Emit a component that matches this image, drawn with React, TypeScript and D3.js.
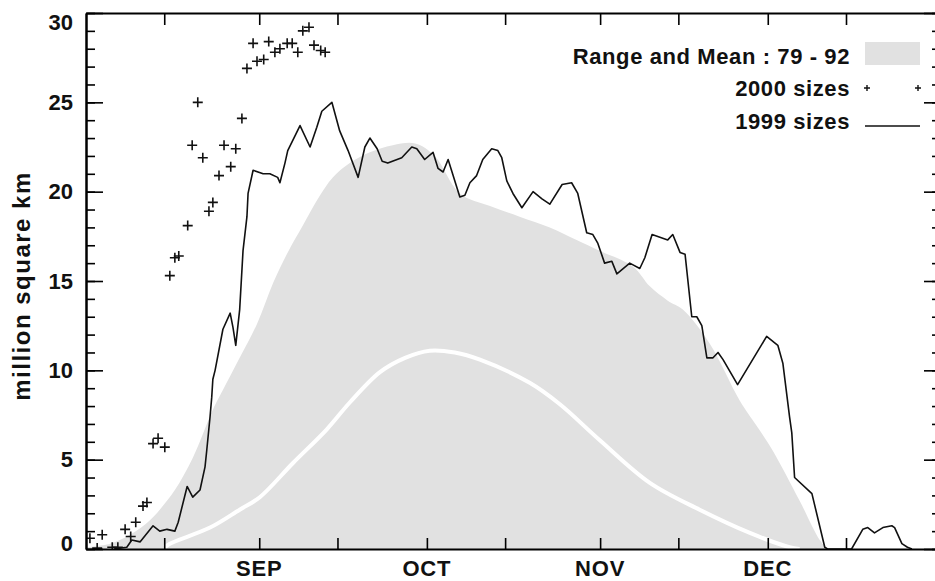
import { useEffect, useRef } from 'react';
import * as d3 from 'd3';

// x values are days after 1 August
const monthLabels = ['SEP', 'OCT', 'NOV', 'DEC'];
const yTicks = [0, 5, 10, 15, 20, 25, 30];

const rangeDays = [0, 4.3, 7.9, 11.4, 13.2, 15.9, 19.1, 22.7, 24.5, 27.5, 30.6, 33.5, 36.1, 38.8, 41.5, 44.2, 47.2, 50.8, 54.9, 58.9, 62.4, 66.9, 72.3, 77.6, 83.0, 87.8, 91.9, 97.9, 100.9, 104.1, 106.8, 111.6, 117.0, 120.0, 122.9, 127.7, 131.3, 132.7];
const rangeMax = [0.1, 0.3, 0.8, 1.6, 2.2, 3.3, 5.1, 7.8, 8.9, 10.7, 12.6, 14.9, 16.6, 18.1, 19.6, 20.8, 21.6, 22.2, 22.6, 22.7, 22.0, 19.9, 19.2, 18.6, 18.0, 17.3, 16.7, 15.8, 14.7, 13.9, 13.4, 11.5, 8.3, 6.9, 5.5, 2.7, 0.5, 0];

const meanDays = [14.1, 15.0, 22.2, 27.5, 31.1, 37.0, 43.1, 47.2, 52.6, 57.1, 61.5, 66.0, 70.5, 79.4, 84.8, 91.9, 100.9, 109.8, 118.8, 125.9, 127.7];
const meanValues = [0.1, 0.3, 1.2, 2.2, 2.9, 4.8, 6.7, 8.2, 9.9, 10.7, 11.1, 11.0, 10.6, 9.3, 8.1, 6.1, 3.7, 2.2, 0.9, 0.1, 0];

const days1999 = [5.0, 7.3, 8.2, 9.7, 12.0, 13.2, 14.5, 15.9, 16.5, 18.1, 19.1, 20.4, 21.3, 21.6, 22.2, 22.5, 22.7, 23.1, 24.5, 25.8, 26.3, 26.8, 27.5, 28.1, 28.8, 29.0, 29.9, 31.7, 32.9, 34.3, 34.7, 35.6, 36.1, 38.3, 40.1, 41.3, 42.2, 44.0, 45.4, 46.9, 48.7, 49.9, 50.8, 52.1, 53.0, 54.0, 56.5, 58.3, 59.2, 60.6, 62.1, 63.0, 63.9, 64.8, 66.9, 67.8, 68.7, 69.9, 71.0, 72.6, 73.7, 74.4, 75.3, 76.4, 78.0, 80.0, 81.6, 83.0, 85.2, 86.9, 88.0, 89.6, 90.7, 91.6, 92.8, 94.1, 95.0, 97.3, 99.1, 100.0, 101.3, 104.1, 105.0, 106.3, 107.2, 108.4, 109.3, 110.2, 111.1, 112.2, 113.1, 114.0, 116.6, 121.8, 123.8, 124.7, 125.9, 126.3, 126.8, 129.9, 132.2, 132.7, 137.0, 139.0, 139.9, 141.1, 142.6, 144.2, 144.7, 146.0, 147.0, 147.8];
const sizes1999 = [0, 0.1, 0.5, 0.4, 1.3, 1.0, 1.1, 1.0, 1.5, 3.5, 2.9, 3.3, 4.6, 5.5, 7.4, 8.5, 9.5, 10.0, 12.3, 13.2, 12.4, 11.4, 13.4, 16.7, 18.6, 19.9, 21.2, 21.0, 21.0, 20.8, 20.5, 21.6, 22.3, 23.7, 22.5, 23.6, 24.5, 25.0, 23.4, 22.3, 20.8, 22.5, 23.0, 22.4, 21.7, 21.6, 21.9, 22.5, 22.4, 21.8, 22.2, 21.3, 21.1, 21.8, 19.7, 19.8, 20.5, 20.9, 21.8, 22.4, 22.3, 21.9, 20.6, 19.9, 19.1, 20.0, 19.6, 19.3, 20.4, 20.5, 19.9, 17.7, 17.6, 17.1, 16.0, 16.1, 15.4, 16.0, 15.7, 16.3, 17.6, 17.3, 17.6, 16.6, 16.5, 13.0, 13.0, 12.5, 10.7, 10.7, 11.0, 10.6, 9.2, 11.9, 11.4, 10.4, 7.4, 6.5, 4.0, 3.1, 0.1, 0, 0, 1.1, 1.2, 0.9, 1.2, 1.3, 1.2, 0.3, 0.1, 0];

const days2000 = [0.7, 2.0, 2.9, 4.7, 5.7, 7.0, 8.0, 8.9, 10.2, 10.9, 12.0, 12.9, 14.1, 15.0, 15.9, 16.6, 18.2, 19.0, 20.0, 20.9, 22.0, 22.7, 23.8, 24.7, 25.9, 26.8, 27.9, 28.8, 29.9, 30.6, 31.8, 32.7, 33.8, 34.7, 36.0, 36.9, 37.9, 38.8, 39.9, 40.8, 42.0, 42.8];
const sizes2000 = [0.6, 0.05, 0.8, 0.1, 0.1, 1.1, 0.7, 1.5, 2.4, 2.6, 5.9, 6.2, 5.7, 15.3, 16.3, 16.4, 18.1, 22.6, 25.0, 21.9, 18.9, 19.4, 20.9, 22.6, 21.4, 22.4, 24.1, 26.9, 28.3, 27.3, 27.4, 28.4, 27.8, 28.0, 28.3, 28.3, 27.8, 29.0, 29.2, 28.2, 27.9, 27.8];

const FONT = '"Liberation Sans", Arial, sans-serif';
const GRAY = '#e1e1e1';

const App = () => {
  const chartRef = useRef<SVGSVGElement>(null);

  useEffect(() => {
    document.body.style.margin = '0';
    const svg = d3.select(chartRef.current);
    svg.selectAll('*').remove();

    const left = 86, right = 941, top = 13, bottom = 549;
    const start = Date.UTC(2000, 7, 1);
    const day = (d: number) => new Date(start + d * 864e5);

    const x = d3.scaleUtc()
      .domain([new Date(start), new Date(Date.UTC(2001, 0, 1))])
      .range([left, right]);
    const y = d3.scaleLinear().domain([0, 30]).range([bottom, top]);

    svg.append('clipPath').attr('id', 'plot')
      .append('rect')
      .attr('x', left).attr('y', top)
      .attr('width', right - left).attr('height', bottom - top);

    const plot = svg.append('g').attr('clip-path', 'url(#plot)');

    const range = rangeDays.map((d, i) => ({ d, v: rangeMax[i] }));
    plot.append('path')
      .datum(range)
      .attr('fill', GRAY)
      .attr('d', d3.area<{ d: number; v: number }>()
        .x(p => x(day(p.d)))
        .y0(y(0))
        .y1(p => y(p.v))
        .curve(d3.curveCatmullRom.alpha(0.5)));

    const mean = meanDays.map((d, i) => ({ d, v: meanValues[i] }));
    plot.append('path')
      .datum(mean)
      .attr('fill', 'none')
      .attr('stroke', '#fff')
      .attr('stroke-width', 4)
      .attr('d', d3.line<{ d: number; v: number }>()
        .x(p => x(day(p.d)))
        .y(p => y(p.v))
        .curve(d3.curveCatmullRom.alpha(0.5)));

    const line99 = days1999.map((d, i) => ({ d, v: sizes1999[i] }));
    plot.append('path')
      .datum(line99)
      .attr('fill', 'none')
      .attr('stroke', '#111')
      .attr('stroke-width', 1.6)
      .attr('stroke-linejoin', 'round')
      .attr('d', d3.line<{ d: number; v: number }>()
        .x(p => x(day(p.d)))
        .y(p => y(p.v)));

    const pts00 = days2000.map((d, i) => ({ d, v: sizes2000[i] }));
    plot.selectAll('.cross')
      .data(pts00)
      .enter()
      .append('path')
      .attr('class', 'cross')
      .attr('transform', p => `translate(${x(day(p.d))},${y(p.v)})`)
      .attr('d', 'M-5,0H5M0,-5V5')
      .attr('stroke', '#111')
      .attr('stroke-width', 1.6);

    // axes
    const monthStarts = d3.utcMonth.range(new Date(Date.UTC(2000, 8, 1)), new Date(Date.UTC(2001, 0, 1)));
    const xTicks = d3.utcMonth.range(new Date(start), new Date(Date.UTC(2001, 0, 1)))
      .flatMap(m => [m, d3.utcDay.offset(m, 14)])
      .filter(t => +t > start);
    const minorY = d3.range(0, 31);

    const styleAxis = (g: d3.Selection<SVGGElement, unknown, null, undefined>) => {
      g.select('.domain').attr('stroke', '#000').attr('stroke-width', 2);
      g.selectAll('.tick line').attr('stroke', '#000').attr('stroke-width', 1.6);
    };

    svg.append('g')
      .attr('transform', `translate(0,${bottom})`)
      .call(d3.axisBottom(x).tickValues(xTicks).tickSize(-11).tickSizeOuter(0).tickFormat(() => ''))
      .call(styleAxis);
    svg.append('g')
      .attr('transform', `translate(0,${top})`)
      .call(d3.axisTop(x).tickValues(xTicks).tickSize(-12).tickSizeOuter(0).tickFormat(() => ''))
      .call(styleAxis);

    svg.append('g')
      .attr('transform', `translate(${left},0)`)
      .call(d3.axisLeft(y).tickValues(minorY).tickSize(-9).tickSizeOuter(0).tickFormat(() => ''))
      .call(styleAxis);
    const yAxis = svg.append('g')
      .attr('transform', `translate(${left},0)`)
      .call(d3.axisLeft(y).tickValues(yTicks).tickSize(-17).tickSizeOuter(0).tickPadding(13))
      .call(styleAxis);
    yAxis.selectAll('text')
      .attr('font-family', FONT)
      .attr('font-size', 22)
      .attr('font-weight', 'bold')
      .attr('fill', '#111')
      .attr('transform', d => (d === 30 ? 'translate(0,9)' : d === 0 ? 'translate(0,-6)' : null));

    svg.append('g')
      .attr('transform', `translate(${right},0)`)
      .call(d3.axisRight(y).tickValues(minorY).tickSize(-9).tickSizeOuter(0).tickFormat(() => ''))
      .call(styleAxis);
    svg.append('g')
      .attr('transform', `translate(${right},0)`)
      .call(d3.axisRight(y).tickValues(yTicks).tickSize(-17).tickSizeOuter(0).tickFormat(() => ''))
      .call(styleAxis);

    svg.selectAll('.month')
      .data(monthStarts)
      .enter()
      .append('text')
      .attr('class', 'month')
      .attr('x', m => x(m))
      .attr('y', 576)
      .attr('text-anchor', 'middle')
      .attr('font-family', FONT)
      .attr('font-size', 22)
      .attr('font-weight', 'bold')
      .attr('letter-spacing', 0.8)
      .attr('fill', '#111')
      .text((m, i) => monthLabels[i]);

    svg.append('text')
      .attr('transform', `translate(30,${(top + bottom) / 2 + 5}) rotate(-90)`)
      .attr('text-anchor', 'middle')
      .attr('font-family', FONT)
      .attr('font-size', 24)
      .attr('font-weight', 'bold')
      .attr('letter-spacing', 1.5)
      .attr('fill', '#111')
      .text('million square km');

    // legend
    const legend = svg.append('g')
      .attr('font-family', FONT)
      .attr('font-size', 22)
      .attr('font-weight', 'bold')
      .attr('letter-spacing', 0.6)
      .attr('fill', '#111')
      .attr('text-anchor', 'end');
    legend.append('text').attr('x', 850).attr('y', 64).text('Range and Mean : 79 - 92');
    legend.append('text').attr('x', 850).attr('y', 96).text('2000 sizes');
    legend.append('text').attr('x', 850).attr('y', 129).text('1999 sizes');
    legend.append('rect')
      .attr('x', 865).attr('y', 42).attr('width', 55).attr('height', 23)
      .attr('fill', GRAY);
    legend.selectAll('.lcross')
      .data([867, 918])
      .enter()
      .append('path')
      .attr('class', 'lcross')
      .attr('transform', cx => `translate(${cx},88)`)
      .attr('d', 'M-3,0H3M0,-3V3')
      .attr('stroke', '#111')
      .attr('stroke-width', 1.4);
    legend.append('line')
      .attr('x1', 865).attr('x2', 920).attr('y1', 126).attr('y2', 126)
      .attr('stroke', '#111')
      .attr('stroke-width', 1.6);
  }, []);

  return <svg ref={chartRef} width={935} height={581} style={{ display: 'block' }} />;
};

export default App;
